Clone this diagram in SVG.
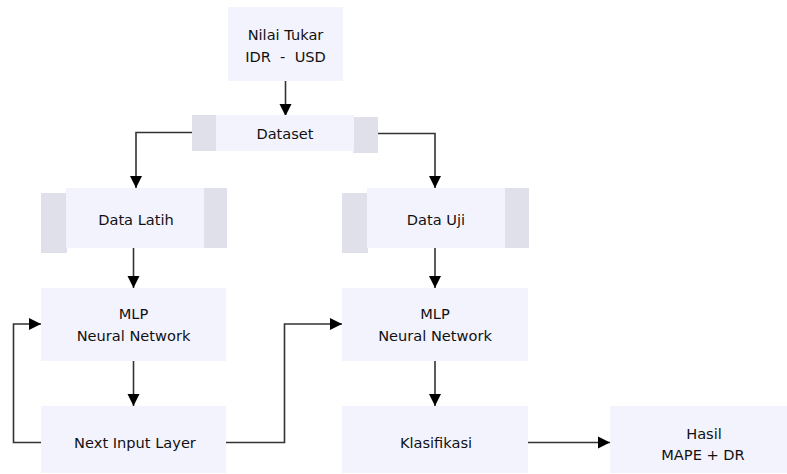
<svg xmlns="http://www.w3.org/2000/svg" width="787" height="474" viewBox="0 0 787 474">
<defs>
<style>
.box{fill:#f3f3fe;}
.side{fill:#e0e0ea;}
.lbl{font-family:"DejaVu Sans","Verdana",sans-serif;font-size:14.6px;fill:#111;text-anchor:middle;}
.edge{fill:none;stroke:#333;stroke-width:1.6;}
</style>
<marker id="arrv" viewBox="0 0 12 14" refX="12" refY="7" markerWidth="12" markerHeight="14" markerUnits="userSpaceOnUse" orient="auto">
<path d="M0,1 L12,7 L0,13 z" fill="#000"/>
</marker>
</defs>
<rect width="787" height="474" fill="#fff"/>
<g id="connectors">
<path class="edge" d="M285.5,81 V116" marker-end="url(#arrv)"/>
<path class="edge" d="M192,132.5 H136 V188" marker-end="url(#arrv)"/>
<path class="edge" d="M378,133.5 H435 V188" marker-end="url(#arrv)"/>
<path class="edge" d="M133.5,248 V288" marker-end="url(#arrv)"/>
<path class="edge" d="M435,248 V288" marker-end="url(#arrv)"/>
<path class="edge" d="M133.5,361 V406" marker-end="url(#arrv)"/>
<path class="edge" d="M435,361 V406" marker-end="url(#arrv)"/>
<path class="edge" d="M41,442.5 H13.5 V324 H41" marker-end="url(#arrv)"/>
<path class="edge" d="M226,442.5 H284.5 V324 H342" marker-end="url(#arrv)"/>
<path class="edge" d="M528,442.5 H610" marker-end="url(#arrv)"/>
</g>
<g id="nilai">
<rect class="box" x="228" y="7" width="115" height="74"/>
<text class="lbl" x="285.5" y="40">Nilai Tukar</text>
<text class="lbl" x="285.5" y="61.5" xml:space="preserve" style="white-space:pre">IDR  -  USD</text>
</g>
<g id="dataset">
<rect class="side" x="192" y="115" width="25" height="36"/>
<rect class="side" x="353" y="117" width="25" height="36"/>
<rect class="box" x="216" y="115" width="138" height="36"/>
<text class="lbl" x="285" y="139">Dataset</text>
</g>
<g id="datalatih">
<rect class="side" x="41" y="193" width="26" height="60"/>
<rect class="side" x="203" y="188" width="24" height="60"/>
<rect class="box" x="66" y="188" width="138" height="60"/>
<text class="lbl" x="136" y="225">Data Latih</text>
</g>
<g id="datauji">
<rect class="side" x="342" y="193" width="26" height="60"/>
<rect class="side" x="504" y="188" width="25" height="60"/>
<rect class="box" x="367" y="188" width="138" height="60"/>
<text class="lbl" x="436" y="225">Data Uji</text>
</g>
<g id="mlp1">
<rect class="box" x="41" y="288" width="185" height="73"/>
<text class="lbl" x="133.5" y="319">MLP</text>
<text class="lbl" x="133.5" y="340.5">Neural Network</text>
</g>
<g id="mlp2">
<rect class="box" x="342" y="288" width="186" height="73"/>
<text class="lbl" x="435" y="319">MLP</text>
<text class="lbl" x="435" y="340.5">Neural Network</text>
</g>
<g id="nextinput">
<rect class="box" x="41" y="406" width="185" height="67"/>
<text class="lbl" x="135" y="448">Next Input Layer</text>
</g>
<g id="klasifikasi">
<rect class="box" x="342" y="406" width="186" height="67"/>
<text class="lbl" x="436" y="448">Klasifikasi</text>
</g>
<g id="hasil">
<rect class="box" x="610" y="406" width="186" height="67"/>
<text class="lbl" x="704" y="439">Hasil</text>
<text class="lbl" x="703" y="459.5">MAPE + DR</text>
</g>
</svg>
